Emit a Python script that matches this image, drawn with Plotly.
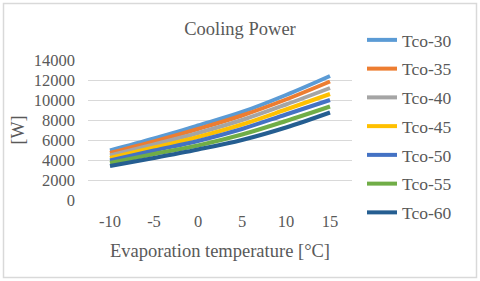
import plotly.graph_objects as go

x_labels = ["-10", "-5", "0", "5", "10", "15"]
series_names = ["Tco-30", "Tco-35", "Tco-40", "Tco-45", "Tco-50", "Tco-55", "Tco-60"]
tco30 = [4950, 6150, 7450, 8800, 10500, 12400]
tco35 = [4700, 5850, 7100, 8450, 10050, 11850]
tco40 = [4450, 5550, 6700, 8000, 9550, 11200]
tco45 = [4200, 5250, 6300, 7550, 9050, 10600]
tco50 = [3950, 4950, 5900, 7100, 8550, 10000]
tco55 = [3700, 4600, 5450, 6550, 7900, 9350]
tco60 = [3400, 4200, 5050, 6000, 7250, 8750]
series_values = [tco30, tco35, tco40, tco45, tco50, tco55, tco60]
colors = ["#5B9BD5", "#ED7D31", "#A5A5A5", "#FFC000", "#4472C4", "#70AD47", "#255E91"]

W, H = 480, 281
L, R, T, B = 88, 128, 60, 81
pw, ph = W - L - R, H - T - B

font = "Liberation Serif, Times New Roman, serif"
txt = "#595959"

fig = go.Figure()
for name, vals, c in zip(series_names, series_values, colors):
    fig.add_trace(go.Scatter(x=x_labels, y=vals, name=name, mode="lines",
                             line=dict(color=c, width=4, shape="spline"),
                             legendgroup=name))

def px_x(p):
    return (p - L) / pw

def px_y(p):
    return 1 - (p - T) / ph

fig.update_layout(
    width=W, height=H,
    margin=dict(l=L, r=R, t=T, b=B),
    paper_bgcolor="white", plot_bgcolor="white",
    font=dict(family=font, size=16, color=txt),
    title=dict(text="Cooling Power", x=240 / W, xanchor="center",
               y=1 - 29 / H, yanchor="middle", font=dict(size=18.5, color=txt)),
    xaxis=dict(type="category", range=[-0.5, 5.5], showgrid=False, zeroline=False,
               showline=False, ticks="", tickfont=dict(size=16.5, color=txt),
               ticklabelstandoff=9,
               title=dict(text="Evaporation temperature [°C]", font=dict(size=18.5, color=txt), standoff=14)),
    yaxis=dict(range=[0, 14000], dtick=2000, tickformat="d", showgrid=True, gridcolor="#D9D9D9", gridwidth=1,
               zeroline=False, showline=False, ticks="", tickfont=dict(size=16.5, color=txt),
               ticklabelstandoff=12,
               title=dict(text="[W]", font=dict(size=18, color=txt), standoff=4)),
    legend=dict(x=px_x(362), xanchor="left", y=px_y(22), yanchor="top",
                font=dict(size=17.5, color=txt), tracegroupgap=3, bgcolor="rgba(0,0,0,0)",
                maxheight=1000),
    showlegend=True,
)
fig.add_shape(type="rect", xref="paper", yref="paper",
              x0=px_x(3.5), x1=px_x(476.5), y0=px_y(277.5), y1=px_y(3.5),
              line=dict(color="#D9D9D9", width=1.5), layer="below")

fig.write_html("out.html", config={"displayModeBar": False},
               post_script="document.body.style.margin='0';")
